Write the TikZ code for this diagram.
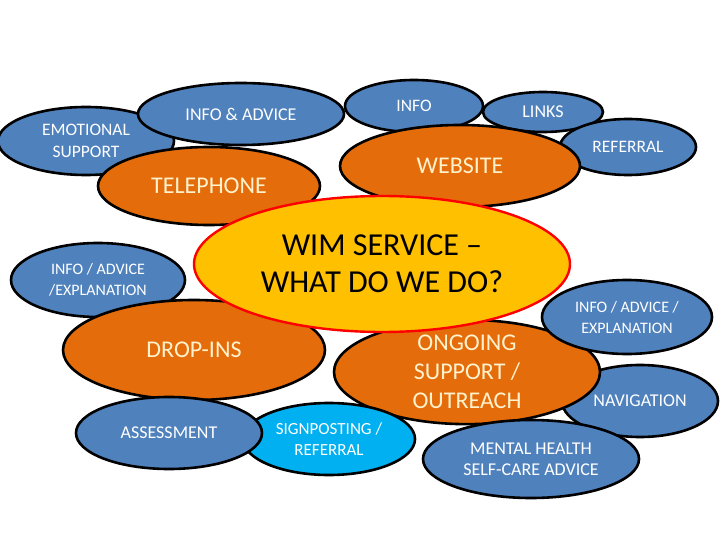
\documentclass[tikz,border=0pt]{standalone}
\usepackage{fontspec}
\setmainfont{Carlito}
\usetikzlibrary{shapes.geometric}
\definecolor{bubbleblue}{HTML}{4F81BD}
\definecolor{bubbleorange}{HTML}{E46C0A}
\definecolor{bubblesky}{HTML}{00B0F0}
\definecolor{coreyellow}{HTML}{FFC000}
\definecolor{creamtext}{HTML}{FFF2CC}
\newcommand{\fsz}[2]{\fontsize{#1}{#2}\selectfont}
\tikzset{
  bubble/.style={ellipse,draw=black,line width=2.6pt,inner sep=0pt,align=center},
  bluebubble/.style={bubble,fill=bubbleblue,text=white},
  orangebubble/.style={bubble,fill=bubbleorange,text=creamtext},
  skybubble/.style={bubble,fill=bubblesky,text=white},
  corebubble/.style={ellipse,draw=red,line width=2.4pt,fill=coreyellow,inner sep=0pt,align=center,text=black},
}
\begin{document}
\begin{tikzpicture}[x=1pt,y=-1pt]
  \useasboundingbox (0,0) rectangle (720,540);
  % top left group
  \node[bluebubble,minimum width=176pt,minimum height=68pt,font=\fsz{17.5}{22}] (emotional) at (86,141) {EMOTIONAL\\SUPPORT};
  \node[bluebubble,minimum width=206pt,minimum height=62pt,font=\fsz{18}{22}] (infoadvice) at (241,114) {INFO \& ADVICE};
  \node[orangebubble,minimum width=222pt,minimum height=78pt,font=\fsz{24}{28}] (telephone) at (209,186) {TELEPHONE};
  % top right group
  \node[bluebubble,minimum width=138pt,minimum height=52pt,font=\fsz{17.5}{22}] (info) at (414,106) {INFO};
  \node[bluebubble,minimum width=120pt,minimum height=40pt,font=\fsz{18}{22}] (links) at (543,112) {LINKS};
  \node[bluebubble,minimum width=136pt,minimum height=56pt,font=\fsz{17.5}{22}] (referral) at (628,147) {REFERRAL};
  \node[orangebubble,minimum width=240pt,minimum height=82pt,font=\fsz{24}{28}] (website) at (460,166) {WEBSITE};
  % left and bottom
  \node[bluebubble,minimum width=174pt,minimum height=74pt,font=\fsz{16}{21}] (explainleft) at (98,280) {INFO / ADVICE\\/EXPLANATION};
  \node[orangebubble,minimum width=262pt,minimum height=100pt,font=\fsz{24}{28}] (dropins) at (194,350) {DROP-INS};
  \node[bluebubble,minimum width=156pt,minimum height=72pt,font=\fsz{18}{21}] (navigation) at (640,401) {NAVIGATION};
  \node[orangebubble,minimum width=266pt,minimum height=102pt,font=\fsz{24}{29}] (ongoing) at (467,372) {ONGOING\\SUPPORT /\\OUTREACH};
  \node[bluebubble,minimum width=170pt,minimum height=74pt,font=\fsz{16}{21}] (explainright) at (627,317) {INFO / ADVICE /\\EXPLANATION};
  \node[skybubble,minimum width=172pt,minimum height=72pt,font=\fsz{17}{21}] (signposting) at (329,439) {SIGNPOSTING /\\REFERRAL};
  \node[bluebubble,minimum width=186pt,minimum height=72pt,font=\fsz{18}{22}] (assessment) at (169,433) {ASSESSMENT};
  \node[bluebubble,minimum width=216pt,minimum height=78pt,font=\fsz{18}{21}] (mentalhealth) at (531,459) {MENTAL HEALTH\\SELF-CARE ADVICE};
  % centre
  \node[corebubble,minimum width=376pt,minimum height=136pt,font=\fsz{32}{37}] (wim) at (382,264) {WIM SERVICE --\\WHAT DO WE DO?};
\end{tikzpicture}
\end{document}
